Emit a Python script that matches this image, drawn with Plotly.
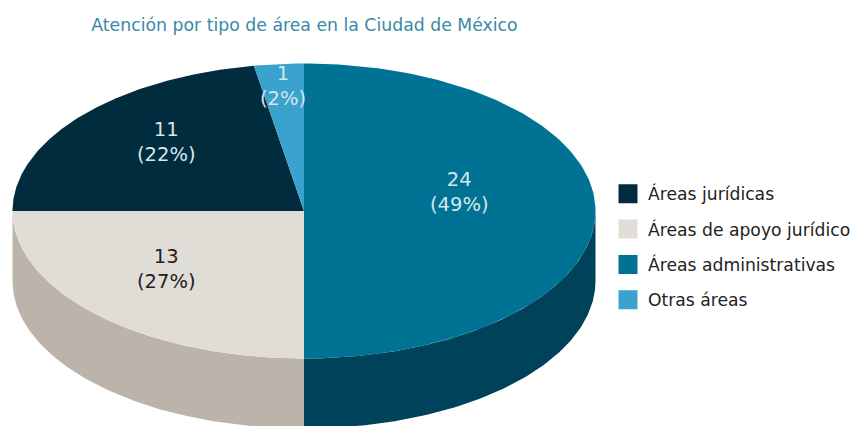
import numpy as np
import plotly.graph_objects as go

# Data, in clockwise drawing order from 12 o'clock
categories = ["Áreas administrativas", "Áreas de apoyo jurídico", "Áreas jurídicas", "Otras áreas"]
values = [24, 13, 11, 1]
percents = [49, 27, 22, 2]
# Angular share each wedge occupies in the picture (in %)
drawn_shares = [50.0, 25.0, 22.25, 2.75]
legend_order = ["Áreas jurídicas", "Áreas de apoyo jurídico", "Áreas administrativas", "Otras áreas"]

top_colors = {"Áreas administrativas": "#007395", "Áreas de apoyo jurídico": "#e0ddd7",
              "Áreas jurídicas": "#002c3e", "Otras áreas": "#3aa3cd"}
side_colors = {"Áreas administrativas": "#00425a", "Áreas de apoyo jurídico": "#bcb4ab",
               "Áreas jurídicas": "#001c28", "Otras áreas": "#24708f"}
label_colors = {"Áreas administrativas": "#d5e6ec", "Áreas de apoyo jurídico": "#222222",
                "Áreas jurídicas": "#d5e6ec", "Otras áreas": "#d5e6ec"}
label_pos = {"Áreas administrativas": (459, 192), "Áreas de apoyo jurídico": (166, 269),
             "Áreas jurídicas": (166, 142), "Otras áreas": (283, 86)}

W, H = 851, 426
CX, CY, RX, RY, DEPTH = 304, 211, 291.5, 147.5, 70
FONT = "DejaVu Sans"


def pt(theta):
    return CX + RX * np.sin(theta), CY - RY * np.cos(theta)


fig = go.Figure()
edges = np.cumsum([0] + drawn_shares) / 100 * 2 * np.pi

# extruded rim (front half only)
for name, a, b in zip(categories, edges[:-1], edges[1:]):
    lo, hi = max(a, np.pi / 2), min(b, 3 * np.pi / 2)
    if hi <= lo:
        continue
    t = np.linspace(lo, hi, 120)
    x, y = pt(t)
    fig.add_trace(go.Scatter(
        x=np.r_[x, x[::-1]], y=np.r_[y, y[::-1] + DEPTH], mode="lines", fill="toself",
        fillcolor=side_colors[name], line=dict(width=0), showlegend=False, hoverinfo="skip"))

# top face
for name, a, b in zip(categories, edges[:-1], edges[1:]):
    t = np.linspace(a, b, 160)
    x, y = pt(t)
    fig.add_trace(go.Scatter(
        x=np.r_[CX, x, CX], y=np.r_[CY, y, CY], mode="lines", fill="toself",
        fillcolor=top_colors[name], line=dict(width=0), showlegend=False, name=name, hoverinfo="name"))

# legend entries
for name in legend_order:
    fig.add_trace(go.Scatter(
        x=[None], y=[None], mode="markers", name=name, legendgroup=name,
        marker=dict(symbol="square", size=16, color=top_colors[name],
                    line=dict(color=top_colors[name], width=3))))

for name, v, p in zip(categories, values, percents):
    lx, ly = label_pos[name]
    fig.add_annotation(x=lx, y=ly, text=f"{v}<br>({p}%)", showarrow=False,
                       font=dict(family=FONT, size=19.5, color=label_colors[name]))

fig.update_layout(
    width=W, height=H, margin=dict(l=0, r=0, t=0, b=0, autoexpand=False),
    paper_bgcolor="white", plot_bgcolor="white",
    font=dict(family=FONT),
    title=dict(text="Atención por tipo de área en la Ciudad de México",
               x=304.5 / W, xanchor="center", y=1 - 25 / H, yanchor="middle",
               font=dict(family=FONT, size=17.3, color="#3a89a6")),
    xaxis=dict(range=[0, W], visible=False, fixedrange=True),
    yaxis=dict(range=[H, 0], visible=False, fixedrange=True),
    legend=dict(x=608 / W, y=1 - 176 / H, xanchor="left", yanchor="top",
                font=dict(family=FONT, size=17.2, color="#222222"),
                tracegroupgap=10, bgcolor="rgba(0,0,0,0)", itemclick=False, itemdoubleclick=False),
)

fig.write_html("out.html", config={"displayModeBar": False},
               post_script="document.body.style.margin='0';document.body.style.overflow='hidden';")
